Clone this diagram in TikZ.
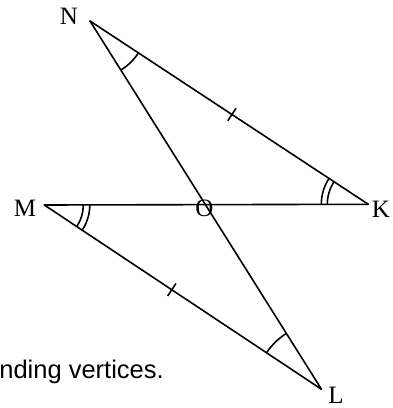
\documentclass[tikz,border=0pt]{standalone}
\usepackage{fontspec}
\setmainfont{Liberation Serif}
\newfontfamily\labelsans{Liberation Sans}
\usetikzlibrary{calc,angles}
\tikzset{
  seg/.style={line width=1.6pt, line cap=round, line join=round},
  lbl/.style={inner sep=0pt, anchor=base, font=\fontsize{25}{29}\selectfont},
  mk/.style={line width=1.6pt},
}
\begin{document}
\begin{tikzpicture}[x=1pt,y=1pt]
\useasboundingbox (0,0) rectangle (392,408);
\coordinate (N) at (90,387);
\coordinate (M) at (44.3,203);
\coordinate (K) at (368.3,203.7);
\coordinate (L) at (321.5,18.7);
\coordinate (O) at ($(N)!0.5!(L)$);
% sides
\draw[seg] (N) -- (K);
\draw[seg] (N) -- (L);
\draw[seg] (M) -- (K);
\draw[seg] (M) -- (L);
% tick marks
\coordinate (t1) at ($(N)!0.51!(K)$);
\coordinate (t2) at ($(M)!0.46!(L)$);
\draw[mk] ($(t1)!7.5pt!90:(K)$) -- ($(t1)!7.5pt!-90:(K)$);
\draw[mk] ($(t2)!7.5pt!90:(L)$) -- ($(t2)!7.5pt!-90:(L)$);
% angle marks
\pic[draw, mk, angle radius=58pt] {angle=L--N--K};
\pic[draw, mk, angle radius=66pt] {angle=N--L--M};
\pic[draw, mk, angle radius=39pt] {angle=L--M--K};
\pic[draw, mk, angle radius=45.5pt] {angle=L--M--K};
\pic[draw, mk, angle radius=41pt] {angle=N--K--M};
\pic[draw, mk, angle radius=47pt] {angle=N--K--M};
% labels
\node[lbl] (lN) at (69,383) {N};
\node[lbl] (lM) at (25,191) {M};
\node[lbl] (lK) at (381,190) {K};
\node[lbl] (lL) at (336,5) {L};
\node[lbl] (lO) at (204.5,191) {O};
\node[inner sep=0pt, anchor=base east, font=\labelsans\fontsize{25.5}{30}\selectfont] (txt) at (164,29) {nding vertices.};
\end{tikzpicture}
\end{document}
